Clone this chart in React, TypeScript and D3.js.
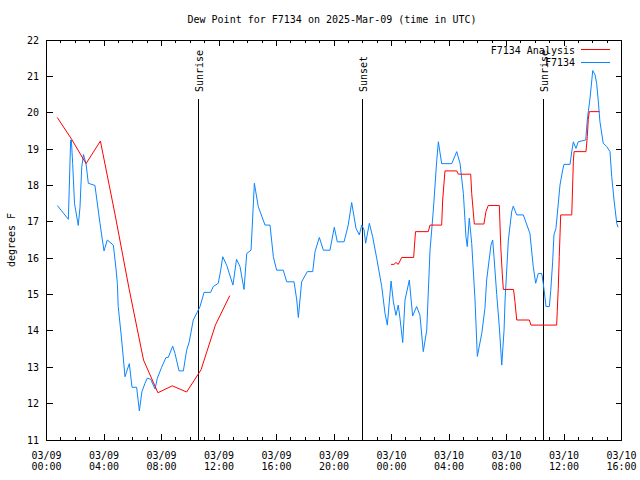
import React from "react";
import * as d3 from "d3";

// hours since 2025-03-09 00:00 UTC
const obsHours = [0.75,1.52,1.68,1.73,1.82,1.95,2.21,2.33,2.45,2.57,2.75,2.91,3.37,3.72,4.0,4.23,4.65,4.83,4.93,4.99,5.23,5.46,5.76,5.95,6.27,6.46,6.64,6.85,7.01,7.25,7.55,7.71,8.01,8.31,8.47,8.78,8.94,9.22,9.52,9.75,9.93,10.21,10.56,10.68,10.96,11.42,11.6,11.95,12.12,12.26,12.54,12.97,13.22,13.46,13.74,13.93,14.23,14.46,14.73,15.2,15.55,15.78,16.01,16.47,16.71,17.22,17.41,17.52,17.75,18.14,18.52,18.68,18.98,19.26,19.72,20.02,20.23,20.7,20.99,21.23,21.53,21.76,21.93,22.09,22.2,22.46,22.69,22.97,23.32,23.55,23.71,23.97,24.13,24.31,24.47,24.59,24.78,24.94,25.24,25.47,25.75,25.98,26.21,26.45,26.68,26.91,27.14,27.26,27.49,28.19,28.54,28.77,29.0,29.18,29.27,29.41,29.58,29.81,29.97,30.28,30.5,30.62,30.92,31.04,31.13,31.32,31.5,31.67,31.83,31.9,32.13,32.36,32.47,32.71,33.17,33.63,33.86,34.03,34.21,34.45,34.56,34.75,34.98,35.08,35.21,35.3,35.44,35.53,35.72,35.91,36.0,36.42,36.54,36.65,36.83,36.99,37.51,37.62,37.81,38.0,38.16,38.27,38.39,38.5,38.73,38.97,39.2,39.32,39.48,39.67,39.76];
const obsValues = [17.45,17.07,19.25,19.25,18.6,17.5,16.9,17.4,18.5,18.85,18.6,18.06,18.0,16.96,16.2,16.5,16.36,15.73,15.3,14.67,13.75,12.74,13.1,12.45,12.45,11.8,12.33,12.56,12.7,12.67,12.4,12.7,13.0,13.27,13.27,13.58,13.38,12.9,12.9,13.47,13.7,14.3,14.57,14.67,15.06,15.06,15.22,15.31,15.67,16.04,15.8,15.26,15.97,15.77,15.14,16.13,16.22,18.06,17.42,16.91,16.91,16.04,15.67,15.67,15.35,15.35,14.85,14.37,15.35,15.63,15.63,16.18,16.57,16.22,16.22,16.85,16.45,16.45,16.91,17.53,16.82,16.64,16.91,16.78,16.41,16.96,16.59,16.0,15.22,14.48,14.16,15.37,14.8,14.43,14.71,14.35,13.68,14.85,15.4,14.41,14.67,14.43,13.43,14.02,16.22,17.32,18.65,19.2,18.6,18.6,18.93,18.6,17.78,16.59,16.32,17.1,16.41,14.85,13.3,13.93,14.62,15.4,16.36,16.5,16.04,15.0,14.11,13.06,14.02,14.85,16.5,17.28,17.43,17.19,17.19,16.68,15.77,15.31,15.58,15.58,15.3,14.67,14.67,15.12,15.9,16.64,16.82,17.19,18.01,18.43,18.58,18.58,18.93,19.2,19.02,19.2,19.25,19.8,20.4,21.16,21.04,20.81,20.3,19.75,19.16,19.07,18.93,18.24,17.6,16.96,16.85];

const anaHours1 = [0.75,1.75,2.75,3.75,4.75,5.75,6.75,7.75,8.75,9.75,10.75,11.75,12.75];
const anaValues1 = [19.87,19.27,18.6,19.22,17.24,15.15,13.2,12.3,12.49,12.32,12.93,14.16,14.97];

const anaHours2 = [23.97,24.17,24.31,24.47,24.71,25.54,25.67,26.56,26.68,27.49,27.56,27.72,28.54,28.65,29.51,29.58,29.76,30.43,30.57,30.73,31.5,31.6,31.71,31.78,32.49,32.59,32.71,33.59,33.7,35.49,35.53,35.6,35.67,35.77,36.54,36.65,36.7,37.53,37.62,37.69,37.76,38.46];
const anaValues2 = [15.83,15.83,15.88,15.83,16.02,16.02,16.73,16.73,16.91,16.91,17.6,18.4,18.4,18.31,18.31,17.78,16.94,16.94,17.28,17.45,17.45,16.32,15.54,15.14,15.14,14.8,14.3,14.3,14.16,14.16,14.53,15.17,16.04,17.19,17.19,18.65,18.93,18.93,19.34,19.82,20.03,20.03];

const sunEvents = [
  { label: "Sunrise", hour: 10.56 },
  { label: "Sunset", hour: 21.97 },
  { label: "Sunrise", hour: 34.56 },
];

const xTickHours = [0, 4, 8, 12, 16, 20, 24, 28, 32, 36, 40];
const xTickDates = ["03/09","03/09","03/09","03/09","03/09","03/09","03/10","03/10","03/10","03/10","03/10"];
const xTickTimes = ["00:00","04:00","08:00","12:00","16:00","20:00","00:00","04:00","08:00","12:00","16:00"];
const yTicks = [11, 12, 13, 14, 15, 16, 17, 18, 19, 20, 21, 22];

const title = "Dew Point for F7134 on 2025-Mar-09 (time in UTC)";
const yLabel = "degrees F";
const legendAnalysis = "F7134 Analysis";
const legendObs = "F7134";

const W = 640, H = 480;
const L = 46.5, R = 621.5, T = 40, B = 440;
const FONT = "'DejaVu Sans Mono', 'Liberation Mono', monospace";
const RED = "#ff0000";
const BLUE = "#0a85ff";

export default function App() {
  const x = d3.scaleLinear().domain([0, 40]).range([L, R]);
  const y = d3.scaleLinear().domain([11, 22]).range([B, T]);
  const line = d3.line<[number, number]>().x(d => x(d[0])).y(d => y(d[1]));
  const obs = obsHours.map((h, i) => [h, obsValues[i]] as [number, number]);
  const a1 = anaHours1.map((h, i) => [h, anaValues1[i]] as [number, number]);
  const a2 = anaHours2.map((h, i) => [h, anaValues2[i]] as [number, number]);
  const minorHours = d3.range(0, 41);

  return (
    <svg width={W} height={H} style={{ display: "block", position: "absolute", left: 0, top: 0, background: "#fff" }}
      fontFamily={FONT} fontSize={10}>
      <rect x={0} y={0} width={W} height={H} fill="#fff" />
      <text x={332} y={19} textAnchor="middle" dominantBaseline="central">{title}</text>
      <text transform={`translate(11,240) rotate(-90)`} textAnchor="middle" dominantBaseline="central">{yLabel}</text>

      {/* ticks */}
      <g stroke="#000" strokeWidth={1} shapeRendering="crispEdges">
        {minorHours.map(h => {
          const major = h % 4 === 0;
          const len = major ? 6 : 3;
          return (
            <g key={h}>
              <line x1={x(h)} x2={x(h)} y1={B} y2={B - len} />
              <line x1={x(h)} x2={x(h)} y1={T} y2={T + len} />
            </g>
          );
        })}
        {yTicks.map(v => (
          <g key={v}>
            <line x1={L} x2={L + 6} y1={y(v)} y2={y(v)} />
            <line x1={R} x2={R - 6} y1={y(v)} y2={y(v)} />
          </g>
        ))}
      </g>

      {yTicks.map(v => (
        <text key={v} x={39} y={y(v)} textAnchor="end" dominantBaseline="central">{v}</text>
      ))}
      {xTickHours.map((h, i) => (
        <g key={h}>
          <text x={x(h)} y={455} textAnchor="middle" dominantBaseline="central">{xTickDates[i]}</text>
          <text x={x(h)} y={466.5} textAnchor="middle" dominantBaseline="central">{xTickTimes[i]}</text>
        </g>
      ))}

      {/* sun events */}
      {sunEvents.map((s, i) => (
        <g key={i}>
          <line x1={x(s.hour)} x2={x(s.hour)} y1={99} y2={B} stroke="#000" strokeWidth={1} shapeRendering="crispEdges" />
          <text transform={`translate(${x(s.hour) + 1},92) rotate(-90)`} textAnchor="start" dominantBaseline="central">{s.label}</text>
        </g>
      ))}

      <path d={line(obs) || ""} fill="none" stroke={BLUE} strokeWidth={1} />
      <path d={line(a1) || ""} fill="none" stroke={RED} strokeWidth={1} />
      <path d={line(a2) || ""} fill="none" stroke={RED} strokeWidth={1} />

      {/* legend */}
      <text x={575} y={50.5} textAnchor="end" dominantBaseline="central">{legendAnalysis}</text>
      <line x1={581} x2={610} y1={49.5} y2={49.5} stroke={RED} strokeWidth={1} shapeRendering="crispEdges" />
      <text x={575} y={62.5} textAnchor="end" dominantBaseline="central">{legendObs}</text>
      <line x1={581} x2={610} y1={62.5} y2={62.5} stroke={BLUE} strokeWidth={1} shapeRendering="crispEdges" />

      <rect x={L} y={T} width={R - L} height={B - T} fill="none" stroke="#000" strokeWidth={1} shapeRendering="crispEdges" />
    </svg>
  );
}
